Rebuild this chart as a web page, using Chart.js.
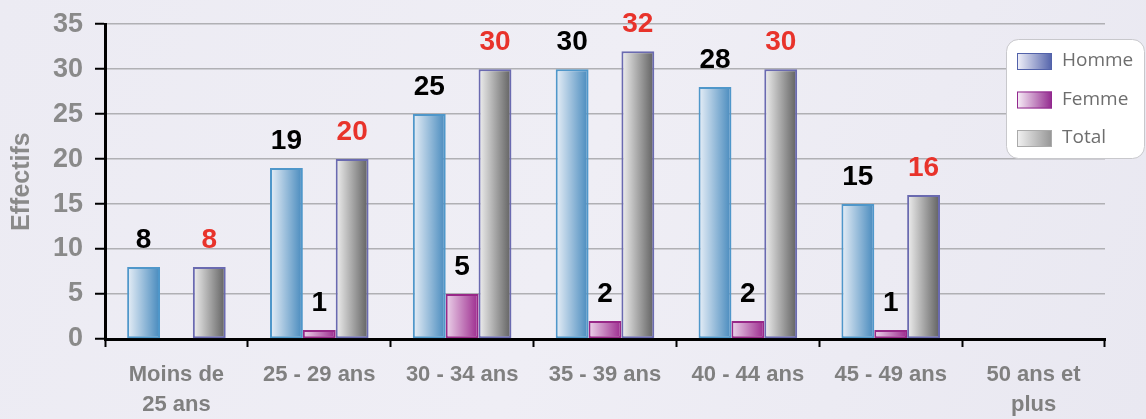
<!DOCTYPE html>
<html>
<head>
<meta charset="utf-8">
<script src="https://cdn.jsdelivr.net/npm/chart.js@4"></script>
<style>
  html, body { margin: 0; padding: 0; background: #ebe9f2; }
  #wrap { width: 1146px; height: 419px; position: relative; }
</style>
</head>
<body>
<div id="wrap"><canvas id="chart"></canvas></div>
<script>
const categories = [
	["Moins de", "25 ans"],
	"25 - 29 ans",
	"30 - 34 ans",
	"35 - 39 ans",
	"40 - 44 ans",
	"45 - 49 ans",
	["50 ans et", "plus"],
];
const homme = [8, 19, 25, 30, 28, 15, null];
const femme = [null, 1, 5, 2, 2, 1, null];
const total = [8, 20, 30, 32, 30, 16, null];
const yTicks = [0, 5, 10, 15, 20, 25, 30, 35];

// bar gradients: left light, right dark
const barStyles = [
	{ light: "#e8eff7", dark: "#4689bd", border: "#4f97ca", label: "#000", legLight: "#f2f2fa", legDark: "#5262aa", legBorder: "#5262aa" },
	{ light: "#ecd4ea", dark: "#9c2a8e", border: "#982888", label: "#000", legLight: "#f8f0f8", legDark: "#92288e", legBorder: "#92288e" },
	{ light: "#f0f0f0", dark: "#5f5f5f", border: "#6a6ab0", label: "#e8332b", legLight: "#f2f2f2", legDark: "#959595", legBorder: "#aaaaaa" },
];

const backgroundPlugin = {
	id: "bg",
	beforeDraw(chart) {
		const { ctx, width, height } = chart;
		ctx.save();
		const g = ctx.createLinearGradient(0, 0, width, height);
		g.addColorStop(0, "#ecebf3");
		g.addColorStop(0.5, "#efeef5");
		g.addColorStop(1, "#e9e8f1");
		ctx.fillStyle = g;
		ctx.fillRect(0, 0, width, height);
		ctx.restore();
	},
};

const gradientPlugin = {
	id: "barGradient",
	beforeDatasetsDraw(chart) {
		const ctx = chart.ctx;
		chart.data.datasets.forEach((ds, i) => {
			const st = barStyles[i];
			chart.getDatasetMeta(i).data.forEach((el) => {
				if (el.x == null || isNaN(el.x)) return;
				const g = ctx.createLinearGradient(el.x - el.width / 2, 0, el.x + el.width / 2, 0);
				g.addColorStop(0, st.light);
				g.addColorStop(1, st.dark);
				el.options = Object.assign({}, el.options, { backgroundColor: g });
			});
		});
	},
};

const valueLabels = {
	id: "valueLabels",
	afterDatasetsDraw(chart) {
		const ctx = chart.ctx;
		ctx.save();
		ctx.font = "bold 28px 'Liberation Sans', Arial, sans-serif";
		ctx.textAlign = "center";
		ctx.textBaseline = "alphabetic";
		chart.data.datasets.forEach((ds, i) => {
			ctx.fillStyle = barStyles[i].label;
			chart.getDatasetMeta(i).data.forEach((el, j) => {
				const v = ds.data[j];
				if (v == null || v === 0) return;
				ctx.fillText(String(v), el.x, el.y - 19);
			});
		});
		ctx.restore();
	},
};

const legendBox = {
	id: "legendBox",
	afterDraw(chart) {
		const ctx = chart.ctx;
		const x = 1006, y = 39, w = 138, h = 119, r = 12;
		ctx.save();
		ctx.fillStyle = "#ffffff";
		ctx.strokeStyle = "#c8c8cc";
		ctx.lineWidth = 1;
		ctx.beginPath();
		ctx.roundRect(x + 0.5, y + 0.5, w, h, r);
		ctx.fill();
		ctx.stroke();
		ctx.font = "19px 'Open Sans', sans-serif";
		ctx.textBaseline = "middle";
		ctx.textAlign = "left";
		chart.data.datasets.forEach((ds, i) => {
			const st = barStyles[i];
			const sy = 53 + i * 38.5;
			const g = ctx.createLinearGradient(1017, 0, 1052, 0);
			g.addColorStop(0, st.legLight);
			g.addColorStop(1, st.legDark);
			ctx.fillStyle = g;
			ctx.fillRect(1017, sy, 35, 17);
			ctx.strokeStyle = st.legBorder;
			ctx.strokeRect(1017.5, sy + 0.5, 34, 16);
			ctx.fillStyle = "#6e6e6e";
			ctx.fillText(ds.label, 1062, sy + 8);
		});
		ctx.restore();
	},
};

const names = ["Homme", "Femme", "Total"];
const series = [homme, femme, total];

new Chart(document.getElementById("chart"), {
	type: "bar",
	data: {
		labels: categories,
		datasets: series.map((data, i) => ({
			label: names[i],
			data,
			backgroundColor: barStyles[i].dark,
			borderColor: barStyles[i].border,
			borderWidth: 2,
			borderSkipped: false,
			categoryPercentage: 0.69,
			barPercentage: 1.0,
		})),
	},
	options: {
		responsive: true,
		maintainAspectRatio: false,
		animation: false,
		layout: { padding: { top: 8, right: 41, left: 0, bottom: 0 } },
		plugins: {
			legend: { display: false },
			tooltip: { enabled: false },
		},
		scales: {
			x: {
				grid: {
					offset: true,
					drawOnChartArea: false,
					drawTicks: true,
					tickLength: 8,
					tickColor: "#000",
					tickWidth: 2,
				},
				border: { color: "#000", width: 3 },
				ticks: {
					color: "#808080",
					font: { family: "'Liberation Sans', Arial, sans-serif", size: 22, weight: "bold", lineHeight: 1.35 },
					padding: 13,
					maxRotation: 0,
					autoSkip: false,
				},
				afterFit(scale) { scale.height = 80; },
			},
			y: {
				min: 0,
				max: 35,
				afterBuildTicks(scale) { scale.ticks = yTicks.map((v) => ({ value: v })); },
				grid: {
					color: "#b0b0b4",
					lineWidth: 1.5,
					tickColor: "#000",
					tickWidth: 2,
					tickLength: 10,
				},
				border: { color: "#000", width: 3 },
				ticks: {
					color: "#8a8a8a",
					font: { family: "'Liberation Sans', Arial, sans-serif", size: 27, weight: "bold", lineHeight: 0.9 },
					padding: 12,
				},
				title: {
					display: true,
					text: "Effectifs",
					color: "#8a8a8a",
					font: { family: "'Liberation Sans', Arial, sans-serif", size: 25, weight: "bold" },
					padding: { top: 7, bottom: 0 },
				},
				afterFit(scale) { scale.width = 105; },
			},
		},
	},
	plugins: [backgroundPlugin, gradientPlugin, valueLabels, legendBox],
});
</script>
</body>
</html>
